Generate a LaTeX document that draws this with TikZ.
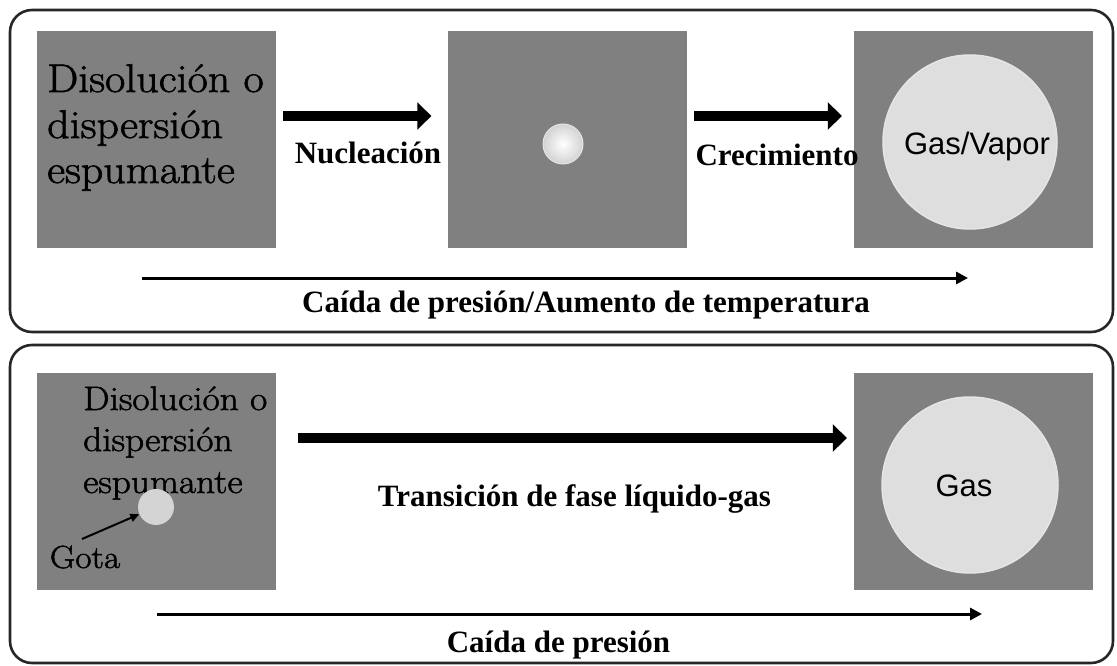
\documentclass[tikz,border=0pt]{standalone}
\usepackage{fontspec}
\newfontfamily\tnr{Liberation Serif}
\newfontfamily\arial{Liberation Sans}
\newfontfamily\pal[FakeBold=1.6,FakeStretch=1.1]{Latin Modern Roman}
\usetikzlibrary{arrows.meta}
\definecolor{boxgray}{RGB}{128,128,128}
\definecolor{bubble}{RGB}{222,222,222}
\definecolor{drop}{RGB}{212,212,212}
\tikzset{
  panel/.style={draw=black!85, line width=2.6pt, rounded corners=22pt},
  graybox/.style={rectangle, fill=boxgray, draw=none, minimum width=239pt, minimum height=217pt, inner sep=0pt},
  bigbubble/.style={circle, fill=bubble, draw=gray!20, line width=1.5pt, minimum size=174pt, inner sep=0pt},
  bigarrow/.style={line width=10pt, -{Triangle[length=14pt,width=27pt]}},
  thinarrow/.style={line width=3pt, -{Triangle[length=12pt,width=12pt]}},
  boxtxt/.style={anchor=base west, inner sep=0pt, font=\pal\fontsize{40}{46}\selectfont},
  boxtxtsm/.style={anchor=base west, inner sep=0pt, font=\pal\fontsize{34}{40}\selectfont},
  lbl/.style={anchor=base, inner sep=0pt, font=\tnr\bfseries\fontsize{31}{36}\selectfont},
  gaslbl/.style={anchor=base, inner sep=0pt, font=\arial\fontsize{31}{36}\selectfont},
}
\begin{document}
\begin{tikzpicture}[x=1pt,y=-1pt]
\useasboundingbox (0,0) rectangle (1117,666);
% panels
\draw[panel] (10,10) rectangle (1113,332);
\draw[panel] (10,345) rectangle (1113,663);
% top row boxes
\node[graybox] (b1) at (156.5,139.5) {};
\node[graybox] (b2) at (567,139.5) {};
\node[graybox] (b3) at (973.5,139.5) {};
% bottom row boxes
\node[graybox] (b4) at (156.5,481.5) {};
\node[graybox] (b5) at (973.5,481.5) {};
% box 1 text
\node[boxtxt] (t1a) at (47,92) {Disolución o};
\node[boxtxt] (t1b) at (47,138) {dispersión};
\node[boxtxt] (t1c) at (47,183) {espumante};
% nucleus bubble
\node[circle, minimum size=40pt, inner sep=0pt, draw=gray!20, line width=1pt,
      inner color=white, outer color=gray!35] (nuc) at (563,144) {};
% big bubbles
\node[bigbubble] (gv) at (970,142) {};
\node[gaslbl] (gvt) at (977,155) {Gas/Vapor};
\node[bigbubble, minimum size=176pt] (g) at (970,485) {};
\node[gaslbl] (gt) at (964,496) {Gas};
% top arrows
\draw[bigarrow, shorten <=7pt, shorten >=16pt] ([yshift=23.5pt]b1.east) -- ([yshift=23.5pt]b2.west);
\draw[bigarrow, shorten <=7.5pt, shorten >=12pt] ([yshift=23.5pt]b2.east) -- ([yshift=23.5pt]b3.west);
\node[lbl] (nl) at (368,164) {Nucleación};
\node[lbl] (cl) at (777,166) {Crecimiento};
% top long arrow
\coordinate (ta) at (142,278);
\coordinate (tb) at (968,278);
\draw[thinarrow] (ta) -- (tb);
\node[lbl] (tl) at (586,312) {Caída de presión/Aumento de temperatura};
% bottom box text
\node[boxtxtsm] (t4a) at (83,410) {Disolución o};
\node[boxtxtsm] (t4b) at (83,451) {dispersión};
\node[boxtxtsm] (t4c) at (83,493) {espumante};
\node[circle, fill=drop, minimum size=36pt, inner sep=0pt] (dr) at (156,507) {};
\node[anchor=base, inner sep=0pt, font=\pal\fontsize{32}{38}\selectfont] (gota) at (85,568) {Gota};
\coordinate (gs) at (82,539);
\draw[line width=2pt, -{Triangle[length=9pt,width=8pt]}] (gs) -- (dr);
% bottom thick arrow
\draw[bigarrow, shorten <=22pt, shorten >=7pt] ([yshift=43.5pt]b4.east) -- ([yshift=43.5pt]b5.west);
\node[lbl] (trl) at (574.5,506) {Transición de fase líquido-gas};
% bottom long arrow
\coordinate (ba) at (157,614);
\coordinate (bb) at (982,614);
\draw[thinarrow] (ba) -- (bb);
\node[lbl] (bl) at (558.5,652) {Caída de presión};
\end{tikzpicture}
\end{document}
